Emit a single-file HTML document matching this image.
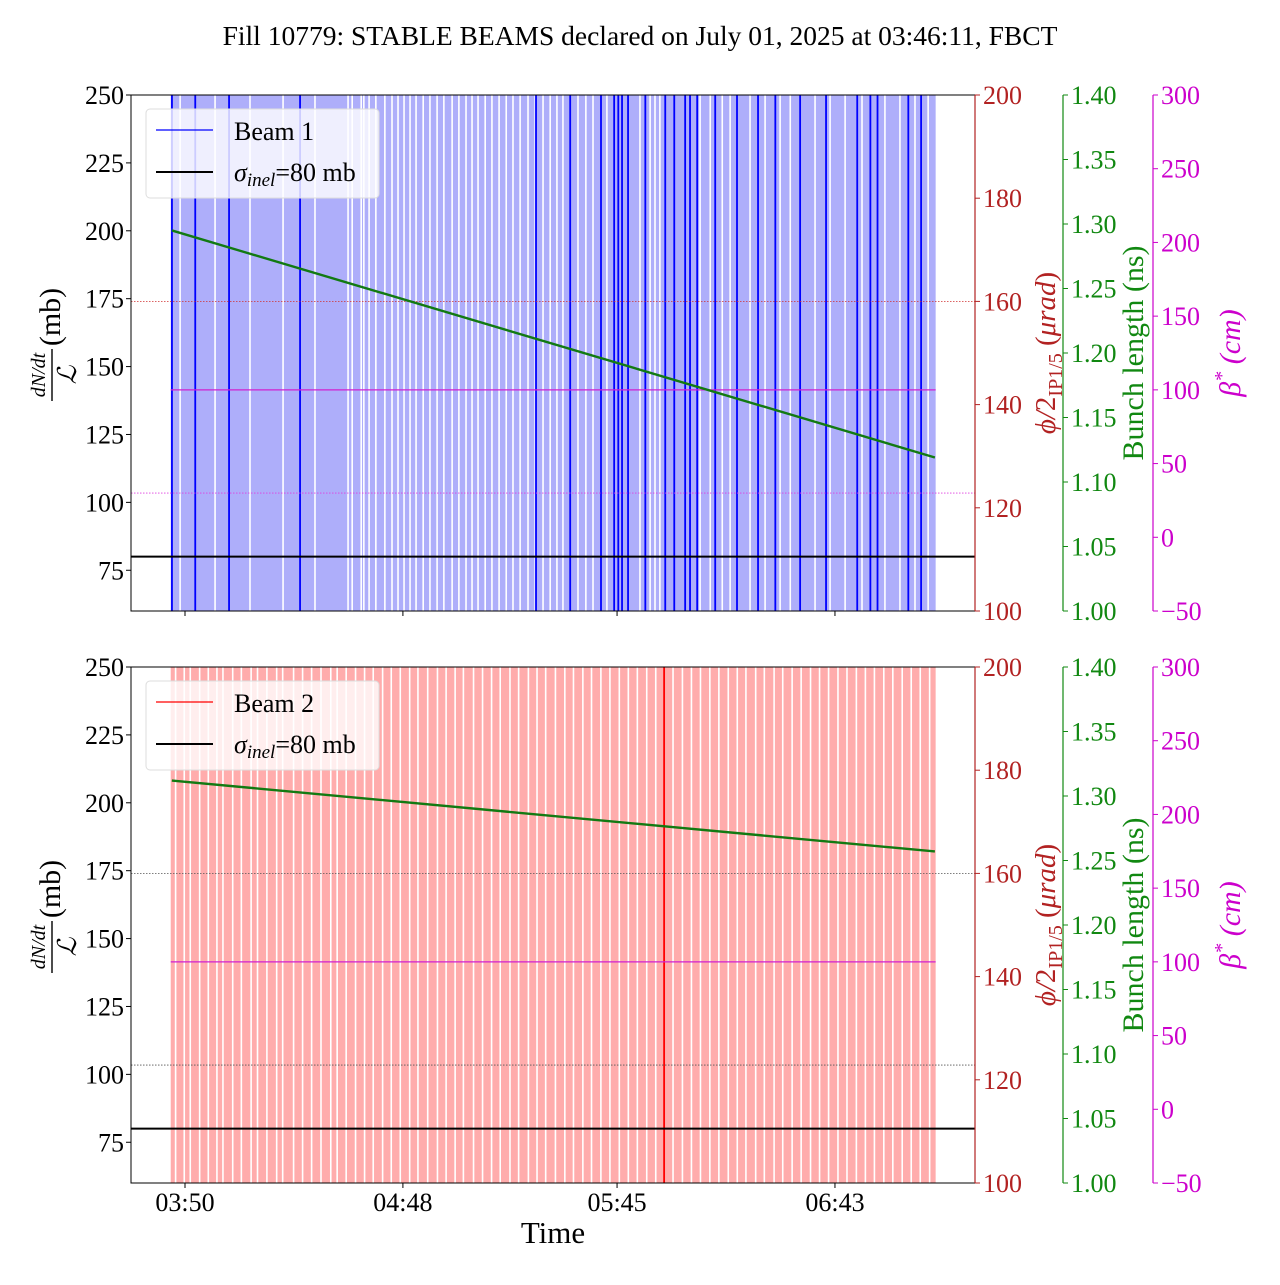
<!DOCTYPE html>
<html><head><meta charset="utf-8"><style>
body{margin:0;background:#fff}
svg text{font-family:"Liberation Serif",serif}
</style></head><body>
<svg id="c" width="1280" height="1280" xmlns="http://www.w3.org/2000/svg"></svg>
<script>
// ---- data ----
const xTickMin=[230,288,345,403];
const xTickLabels=["03:50","04:48","05:45","06:43"];
const yTicks=[75,100,125,150,175,200,225,250];
const redTicks=[100,120,140,160,180,200];
const greenTicks=[1.00,1.05,1.10,1.15,1.20,1.25,1.30,1.35,1.40];
const magTicks=[-50,0,50,100,150,200,250,300];
const dataStart=226.2, dataEnd=429.8;
const gaps1=[228.7,238.0,247.3,256.1,264.6,273.4,274.5,276.9,277.6,279.0,280.8,283.2,285.1,286.7,288.3,289.9,291.5,293.4,295.2,297.1,298.9,301.1,302.9,304.8,306.4,308.0,309.9,311.7,313.6,315.5,317.3,319.2,321.3,323.2,325.3,327.2,329.0,330.6,334.6,336.7,338.6,342.3,351.1,353.8,355.1,356.4,367.1,369.8,373.0,375.1,380.4,384.4,388.4,391.1,397.7,401.7,405.7,410.2,416.3,420.3,424.3,427.8];
const dark1=[226.5,232.7,241.7,260.6,323.4,332.5,340.7,344.2,345.3,346.3,347.9,352.5,357.8,360.2,363.1,364.4,366.3,371.1,376.9,382.5,387.1,393.7,400.6,408.9,412.4,414.3,422.5,425.9];
const gaps2=[227.5,229.8,231.4,233.9,236.2,238.5,240.1,242.7,245.0,247.6,249.3,251.8,254.4,256.0,258.9,261.3,263.7,266.2,268.8,270.5,272.9,275.4,277.8,280.1,282.6,284.9,287.3,289.8,292.0,294.6,297.2,299.5,301.9,304.1,306.8,309.2,311.6,313.9,316.5,318.8,321.4,323.7,326.0,328.6,331.1,333.4,335.9,338.2,340.7,343.1,345.6,348.0,350.4,352.9,355.3,359.9,362.4,364.8,367.2,369.7,372.1,374.6,377.0,379.3,381.9,384.2,386.8,389.1,391.6,394.0,396.5,398.9,401.3,403.8,406.2,408.7,411.1,413.5,416.0,418.4,420.9,423.3,425.7,428.2];
const dark2=[357.5];
const bl1Times=[226.5,429.6], bl1Vals=[1.295,1.119];
const bl2Times=[226.5,429.6], bl2Vals=[1.312,1.257];
const sigma=80, phiRef=160, betaSolid=100, betaDot=30;

// ---- scales ----
const X0=131,X1=975;
const px=m=>185+(m-230)*3.757;
const svg=document.getElementById('c');
const NS='http://www.w3.org/2000/svg';
function el(tag,attrs,parent,text){const e=document.createElementNS(NS,tag);for(const k in attrs)e.setAttribute(k,attrs[k]);if(text!==undefined)e.textContent=text;(parent||svg).appendChild(e);return e;}

const t=el('text',{x:640,y:45,'text-anchor':'middle','font-size':27.5});
t.textContent='Fill 10779: STABLE BEAMS declared on July 01, 2025 at 03:46:11, FBCT';



function panel(top,idx,light,darkC,gaps,darks,blT,blV,legendLabel){
  const H=516,B=top+H;
  const yL=v=>B-(v-60)/190*H;
  const yR=v=>B-(v-100)/100*H;
  const yG=v=>B-(v-1.0)/0.4*H;
  const yM=v=>B-(v+50)/350*H;
  const g=el('g',{});
  
  
  const fill=el('rect',{x:px(dataStart),y:top,width:px(dataEnd)-px(dataStart),height:H,fill:light},g);
  
  
  gaps.forEach(m=>{const r=el('rect',{x:px(m)-0.8,y:top,width:1.6,height:H,fill:'#fff'},g);
    
    });
  darks.forEach(m=>{const r=el('rect',{x:px(m)-0.8,y:top,width:1.8,height:H,fill:darkC},g);
    
    });
  const l1=el('line',{x1:X0,x2:X1,y1:yR(phiRef),y2:yR(phiRef),stroke:idx==1?'#d03030':'#555','stroke-width':0.8,'stroke-dasharray':'1.5,1.5'},g);
  
  
  const l2=el('line',{x1:X0,x2:X1,y1:yM(betaDot),y2:yM(betaDot),stroke:idx==1?'#e040e0':'#555','stroke-width':0.8,'stroke-dasharray':'1.5,1.5'},g);
  
  
  const l3=el('line',{x1:px(dataStart),x2:px(dataEnd),y1:yM(betaSolid),y2:yM(betaSolid),stroke:'#d020d0','stroke-width':1.2},g);
  
  
  const bl=el('polyline',{points:blT.map((m,i)=>px(m)+','+yG(blV[i])).join(' '),fill:'none',stroke:'#127a12','stroke-width':2.4},g);
  
  
  const sl=el('line',{x1:X0,x2:X1,y1:yL(sigma),y2:yL(sigma),stroke:'#000','stroke-width':2},g);
  
  
  const fr=el('rect',{x:X0,y:top,width:X1-X0,height:H,fill:'none',stroke:'#000','stroke-width':1},g);
  
  
  yTicks.forEach(v=>{el('line',{x1:X0-5,x2:X0,y1:yL(v),y2:yL(v),stroke:'#000'},g);
    const tx=el('text',{x:X0-7,y:yL(v)+9,'text-anchor':'end','font-size':26},g,String(v));
    
    });
  xTickMin.forEach((m,i)=>{el('line',{x1:px(m),x2:px(m),y1:B,y2:B+5,stroke:'#000'},g);
    if(idx==2){const tx=el('text',{x:px(m),y:B+28,'text-anchor':'middle','font-size':26},g,xTickLabels[i]);
      
      }});
  const axes=[[975,'#b22222',redTicks,yR,v=>String(v)],[1063,'#118811',greenTicks,yG,v=>v.toFixed(2)],[1153,'#cc00cc',magTicks,yM,v=>v<0?'\u2212'+(-v):String(v)]];
  axes.forEach(([ax,c,ticks,f,fmt])=>{
    el('line',{x1:ax,x2:ax,y1:top,y2:B,stroke:c,'stroke-width':1.2},g);
    ticks.forEach(v=>{el('line',{x1:ax,x2:ax+5,y1:f(v),y2:f(v),stroke:c},g);
      const tx=el('text',{x:ax+8,y:f(v)+9,'font-size':26,fill:c},g,fmt(v));
      
      });
  });
  const mid=top+H/2;
  const r1=el('text',{transform:`translate(1055,${top+258}) rotate(-90)`,'text-anchor':'middle','font-size':29,fill:'#b22222'},g);
  r1.innerHTML='<tspan font-style="italic">ϕ/</tspan>2<tspan font-size="20" dy="7">IP1/5</tspan><tspan dy="-7"> (</tspan><tspan font-style="italic">μrad</tspan>)';
  
  
  const r2=el('text',{transform:`translate(1143,${top+258}) rotate(-90)`,'text-anchor':'middle','font-size':30,fill:'#118811'},g,'Bunch length (ns)');
  
  
  const r3=el('text',{transform:`translate(1240,${top+258}) rotate(-90)`,'text-anchor':'middle','font-size':30,fill:'#cc00cc','font-style':'italic'},g);
  r3.innerHTML='β<tspan font-size="20" dy="-12">*</tspan><tspan dy="12"> (cm)</tspan>';
  
  
  const lt=el('g',{transform:`translate(62,${top+258}) rotate(-90)`},g);
  
  
  el('text',{x:-22,y:-17,'text-anchor':'middle','font-size':20,'font-style':'italic'},lt,'dN/dt');
  el('line',{x1:-48,x2:4,y1:-10,y2:-10,stroke:'#000','stroke-width':1.4},lt);
  el('text',{x:-22,y:14,'text-anchor':'middle','font-size':26,'font-style':'italic'},lt,'ℒ');
  el('text',{x:36,y:-2,'text-anchor':'middle','font-size':30},lt,'(mb)');
  const lg=el('g',{},g);
  
  
  el('rect',{x:146,y:top+14,width:233,height:89,rx:4,fill:'rgba(255,255,255,0.8)',stroke:'#ddd'},lg);
  el('line',{x1:156,x2:213,y1:top+35,y2:top+35,stroke:darkC,'stroke-width':1.2},lg);
  el('text',{x:234,y:top+45,'font-size':26},lg,legendLabel);
  el('line',{x1:156,x2:213,y1:top+77,y2:top+77,stroke:'#000','stroke-width':2},lg);
  const s=el('text',{x:234,y:top+86,'font-size':26},lg);
  s.innerHTML='<tspan font-style="italic">σ</tspan><tspan font-style="italic" font-size="19" dy="5">inel</tspan><tspan dy="-5">=80 mb</tspan>';
}
panel(95,1,'#aeaefa','#0000ff',gaps1,dark1,bl1Times,bl1Vals,'Beam 1');
panel(667,2,'#ffacac','#ff0000',gaps2,dark2,bl2Times,bl2Vals,'Beam 2');
const xl=el('text',{x:553,y:1243,'text-anchor':'middle','font-size':31},svg,'Time');


</script>
</body></html>
